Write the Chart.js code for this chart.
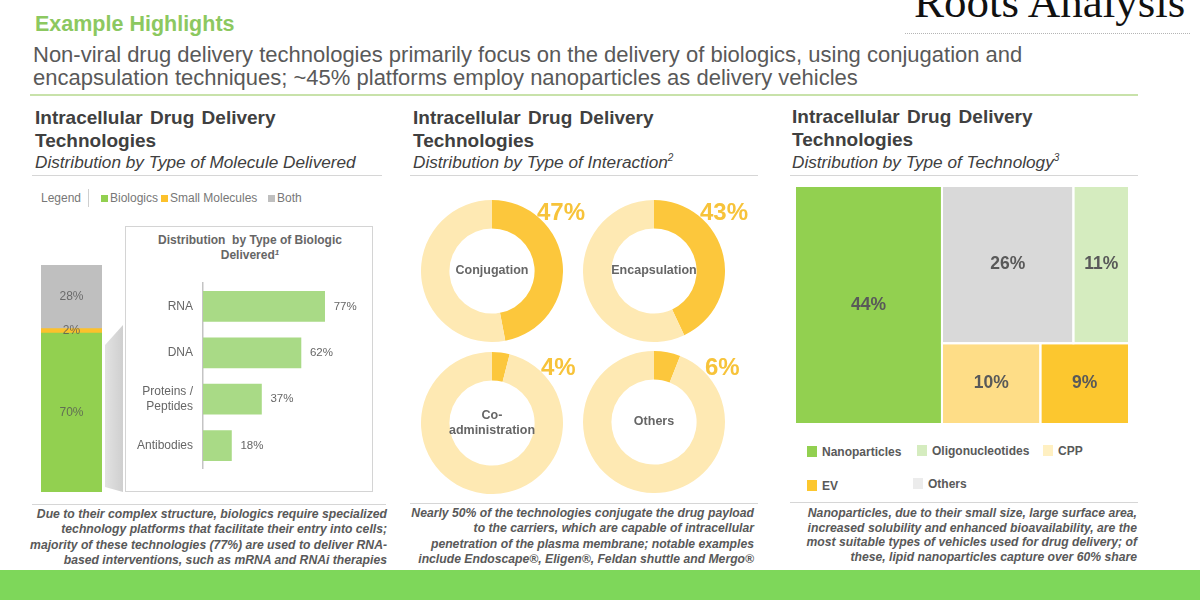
<!DOCTYPE html>
<html>
<head>
<meta charset="utf-8">
<script src="https://cdn.jsdelivr.net/npm/chart.js@4.4.1/dist/chart.umd.min.js"></script>
<style>
  body { margin: 0; background: #fff; font-family: "Liberation Sans", Arial, sans-serif; }
  #page { position: relative; width: 1200px; height: 600px; overflow: hidden; background: #fff; }
  .abs { position: absolute; white-space: nowrap; }
  .head { left: 35px; top: 12px; font-size: 21.5px; font-weight: bold; color: #8cc860; line-height: 24px; }
  .lead { left: 33px; top: 43px; font-size: 22px; color: #595959; line-height: 23px; }
  .title { font-size: 19px; font-weight: bold; color: #404040; line-height: 23px; word-spacing: 2px; }
  .sub { font-size: 17.2px; font-style: italic; color: #404040; line-height: 20px; }
  .sup { position: relative; top: -7px; font-size: 10px; }
  .rule { position: absolute; height: 0; border-top: 1.5px solid #d6d6d6; }
  .note { font-size: 12.2px; font-weight: bold; font-style: italic; color: #595959; text-align: right; line-height: 15.3px; }
  .pct { font-size: 24px; font-weight: bold; color: #f7c33a; line-height: 28px; }
  .leg { font-size: 12px; color: #777; line-height: 14px; }
  .leg3 { font-size: 12px; font-weight: bold; color: #595959; line-height: 14px; }
  .sw { position: absolute; }
</style>
</head>
<body>
<div id="page">
  <!-- header -->
  <div class="abs head">Example Highlights</div>
  <div class="abs lead">Non-viral drug delivery technologies primarily focus on the delivery of biologics, using conjugation and<br>encapsulation techniques; ~45% platforms employ nanoparticles as delivery vehicles</div>
  <div class="rule" style="left:30px;top:94px;width:1108px;border-top:2px solid #c8e2aa;"></div>
  <div class="abs" style="left:914px;top:-20px;font-family:'Liberation Serif',serif;font-size:45px;line-height:45px;color:#111;">Roots Analysis</div>
  <div class="rule" style="left:905px;top:33px;width:285px;border-top:1px dotted #b5b5b5;"></div>

  <!-- column titles -->
  <div class="abs title" style="left:35px;top:106px;">Intracellular Drug Delivery<br>Technologies</div>
  <div class="abs sub" style="left:35px;top:152px;">Distribution by Type of Molecule Delivered</div>
  <div class="rule" style="left:32px;top:175px;width:350px;"></div>

  <div class="abs title" style="left:413px;top:106px;">Intracellular Drug Delivery<br>Technologies</div>
  <div class="abs sub" style="left:413px;top:152px;">Distribution by Type of Interaction<span class="sup">2</span></div>
  <div class="rule" style="left:410px;top:175px;width:348px;"></div>

  <div class="abs title" style="left:792px;top:105px;">Intracellular Drug Delivery<br>Technologies</div>
  <div class="abs sub" style="left:792px;top:152px;">Distribution by Type of Technology<span class="sup">3</span></div>
  <div class="rule" style="left:790px;top:175px;width:348px;"></div>

  <!-- left column decorations -->
  <div class="abs leg" style="left:41px;top:191px;">Legend</div>
  <div class="sw" style="left:88px;top:189px;width:1px;height:18px;background:#cfcfcf;"></div>
  <div class="sw" style="left:105px;top:325px;width:18px;height:167px;background:linear-gradient(90deg,#e2e2e2,#cfcfcf);clip-path:polygon(0 12%,100% 0,100% 100%,0 97%);"></div>
  <div class="sw" style="left:125px;top:226px;width:246px;height:264px;border:1.5px solid #d4d4d4;"></div>
  <div class="abs" style="left:126px;top:233px;width:248px;text-align:center;font-size:12px;font-weight:bold;color:#666;line-height:15px;">Distribution&nbsp; by Type of Biologic<br>Delivered<span style="position:relative;top:-4px;font-size:8px;font-style:italic;">1</span></div>

  <!-- notes -->
  <div class="rule" style="left:32px;top:504px;width:354px;"></div>
  <div class="rule" style="left:410px;top:503px;width:348px;"></div>
  <div class="rule" style="left:790px;top:502px;width:348px;"></div>
  <div class="abs note" style="left:20px;top:507px;width:367px;">Due to their complex structure, biologics require specialized<br>technology platforms that facilitate their entry into cells;<br>majority of these technologies (77%) are used to deliver RNA-<br>based interventions, such as mRNA and RNAi therapies</div>
  <div class="abs note" style="left:395px;top:506px;width:359px;">Nearly 50% of the technologies conjugate the drug payload<br>to the carriers, which are capable of intracellular<br>penetration of the plasma membrane; notable examples<br>include Endoscape®, Eligen®, Feldan shuttle and Mergo®</div>
  <div class="abs note" style="left:775px;top:506px;width:362px;line-height:14.7px;">Nanoparticles, due to their small size, large surface area,<br>increased solubility and enhanced bioavailability, are the<br>most suitable types of vehicles used for drug delivery; of<br>these, lipid nanoparticles capture over 60% share</div>

  <!-- bottom band -->
  <div class="sw" style="left:0;top:570px;width:1200px;height:30px;background:#7ed75a;"></div>
</div>

<script>
// ---- data ----
// molecule delivered (stacked bar, bottom to top)
const moleculeTypes = ['Biologics', 'Small Molecules', 'Both'];
const moleculeShares = [70, 2, 28];
const moleculeColors = ['#92d050', '#fcc12c', '#bfbfbf'];

// biologic delivered (inset bars)
const biologicTypes = ['RNA', 'DNA', ['Proteins /', 'Peptides'], 'Antibodies'];
const biologicShares = [77, 62, 37, 18];

// type of interaction (doughnuts)
const interactionLabels = ['Conjugation', 'Encapsulation', ['Co-', 'administration'], 'Others'];
const interactionShares = [47, 43, 4, 6];

// type of technology (treemap)
const technologyTypes = ['Nanoparticles', 'Others', 'Oligonucleotides', 'CPP', 'EV'];
const technologyShares = [44, 26, 11, 10, 9];
const technologyColors = ['#92d050', '#d9d9d9', '#d5ecbf', '#fedd87', '#fcc72f'];
const technologyLegend = ['Nanoparticles', 'Oligonucleotides', 'CPP', 'EV', 'Others'];

// ---- setup ----
Chart.defaults.font.family = '"Liberation Sans", Arial, sans-serif';
Chart.defaults.animation = false;
Chart.defaults.plugins.legend.display = false;
Chart.defaults.plugins.tooltip.enabled = false;

const page = document.getElementById('page');

function addCanvas(left, top, w, h) {
  const c = document.createElement('canvas');
  c.width = w; c.height = h;
  c.style.cssText = `position:absolute;left:${left}px;top:${top}px;width:${w}px;height:${h}px;`;
  page.appendChild(c);
  return c;
}

function addText(html, css, cls) {
  const d = document.createElement('div');
  d.className = 'abs ' + (cls || '');
  d.style.cssText = css;
  d.innerHTML = html;
  page.appendChild(d);
  return d;
}

// ---- 1. stacked bar: type of molecule ----
// legend row
const legendX = [101, 161, 268];
moleculeTypes.forEach((t, i) => {
  addText('', `left:${legendX[i]}px;top:195px;width:7px;height:7px;background:${moleculeColors[i]};`);
  addText(t, `left:${legendX[i] + 9}px;top:191px;`, 'leg');
});

const stackLabels = {
  id: 'stackLabels',
  afterDatasetsDraw(chart) {
    const ctx = chart.ctx;
    ctx.save();
    ctx.font = '12px "Liberation Sans", Arial';
    ctx.fillStyle = 'rgba(85,85,85,0.8)';
    ctx.textAlign = 'center';
    ctx.textBaseline = 'middle';
    chart.data.datasets.forEach((ds, i) => {
      const bar = chart.getDatasetMeta(i).data[0];
      ctx.fillText(ds.data[0] + '%', bar.x, (bar.y + bar.base) / 2);
    });
    ctx.restore();
  }
};

new Chart(addCanvas(41, 265, 61, 227), {
  type: 'bar',
  data: {
    labels: [''],
    datasets: moleculeTypes.map((t, i) => ({
      label: t,
      data: [moleculeShares[i]],
      backgroundColor: moleculeColors[i],
      barPercentage: 1,
      categoryPercentage: 1
    }))
  },
  options: {
    responsive: false,
    layout: { padding: 0 },
    scales: {
      x: { stacked: true, display: false },
      y: { stacked: true, display: false, min: 0, max: 100 }
    }
  },
  plugins: [stackLabels]
});

// ---- 2. inset bars: type of biologic ----
const barValues = {
  id: 'barValues',
  afterDatasetsDraw(chart) {
    const ctx = chart.ctx;
    ctx.save();
    ctx.font = '11.5px "Liberation Sans", Arial';
    ctx.fillStyle = '#666';
    ctx.textBaseline = 'middle';
    chart.getDatasetMeta(0).data.forEach((bar, i) => {
      ctx.fillText(chart.data.datasets[0].data[i] + '%', bar.x + 9, bar.y);
    });
    ctx.restore();
  }
};

new Chart(addCanvas(125, 266, 248, 220), {
  type: 'bar',
  data: {
    labels: biologicTypes,
    datasets: [{ data: biologicShares, backgroundColor: '#a9da86', barThickness: 30 }]
  },
  options: {
    responsive: false,
    indexAxis: 'y',
    layout: { padding: { right: 12 } },
    scales: {
      x: { display: false, min: 0, max: 100 },
      y: {
        afterFit(scale) { scale.width = 78; },
        grid: { color: 'rgba(0,0,0,0)', drawTicks: false },
        border: { color: '#c4c4c4', width: 1.5 },
        ticks: { color: '#666', padding: 10, font: { size: 12 } }
      }
    }
  },
  plugins: [barValues]
});

// ---- 3. doughnuts: type of interaction ----
const donutCenters = [[492, 271], [654, 271], [492, 423], [654, 422]];
const pctPos = [[537, 198], [700, 198], [541, 353], [705, 353]];

const centerLabel = {
  id: 'centerLabel',
  afterDatasetsDraw(chart) {
    const ctx = chart.ctx;
    const arc = chart.getDatasetMeta(0).data[0];
    const lines = [].concat(chart.data.labels[0]);
    ctx.save();
    ctx.font = 'bold 12.5px "Liberation Sans", Arial';
    ctx.fillStyle = '#666';
    ctx.textAlign = 'center';
    ctx.textBaseline = 'middle';
    lines.forEach((l, k) => {
      ctx.fillText(l, arc.x, arc.y + (k - (lines.length - 1) / 2) * 15);
    });
    ctx.restore();
  }
};

interactionLabels.forEach((lab, i) => {
  const [cx, cy] = donutCenters[i];
  new Chart(addCanvas(cx - 71, cy - 71, 142, 142), {
    type: 'doughnut',
    data: {
      labels: [lab, 'rest'],
      datasets: [{
        data: [interactionShares[i], 100 - interactionShares[i]],
        backgroundColor: ['#fcc73c', '#fee9b3'],
        borderWidth: 0
      }]
    },
    options: { responsive: false, cutout: '60%', layout: { padding: 0 } },
    plugins: [centerLabel]
  });
  addText(interactionShares[i] + '%', `left:${pctPos[i][0]}px;top:${pctPos[i][1]}px;`, 'pct');
});

// ---- 4. treemap: type of technology ----
// first item takes a full-height column, the rest fill two rows
const rows = [[1, 2], [3, 4]];
const total = technologyShares.reduce((a, b) => a + b, 0);
const rects = [];
const firstW = technologyShares[0] / total * 100;
rects[0] = { x0: 0, x1: firstW, y0: 0, y1: 100 };
const restSum = total - technologyShares[0];
let yTop = 100;
rows.forEach(r => {
  const rowSum = r.reduce((a, k) => a + technologyShares[k], 0);
  const h = rowSum / restSum * 100;
  let x = firstW;
  r.forEach(k => {
    const w = technologyShares[k] / rowSum * (100 - firstW);
    rects[k] = { x0: x, x1: x + w, y0: yTop - h, y1: yTop };
    x += w;
  });
  yTop -= h;
});

const treeLabels = {
  id: 'treeLabels',
  afterDatasetsDraw(chart) {
    const ctx = chart.ctx;
    const sx = chart.scales.x, sy = chart.scales.y;
    ctx.save();
    ctx.strokeStyle = '#fff';
    ctx.lineWidth = 2;
    rects.forEach(r => {
      const l = sx.getPixelForValue(r.x0), rr = sx.getPixelForValue(r.x1);
      const t = sy.getPixelForValue(r.y1), b = sy.getPixelForValue(r.y0);
      ctx.strokeRect(l, t, rr - l, b - t);
    });
    ctx.font = 'bold 17.5px "Liberation Sans", Arial';
    ctx.fillStyle = '#595959';
    ctx.textAlign = 'center';
    ctx.textBaseline = 'middle';
    rects.forEach((r, k) => {
      ctx.fillText(technologyShares[k] + '%',
        sx.getPixelForValue((r.x0 + r.x1) / 2), sy.getPixelForValue((r.y0 + r.y1) / 2));
    });
    ctx.restore();
  }
};

new Chart(addCanvas(795, 186, 334, 238), {
  type: 'line',
  data: {
    datasets: technologyTypes.map((t, k) => ({
      label: t,
      data: [{ x: rects[k].x0, y: rects[k].y1 }, { x: rects[k].x1, y: rects[k].y1 }],
      fill: { value: rects[k].y0 },
      backgroundColor: technologyColors[k],
      borderWidth: 0,
      pointRadius: 0
    }))
  },
  options: {
    responsive: false,
    layout: { padding: 0 },
    scales: {
      x: { type: 'linear', display: false, min: 0, max: 100 },
      y: { type: 'linear', display: false, min: 0, max: 100 }
    }
  },
  plugins: [treeLabels]
});

// treemap legend
const leg3Pos = [[807, 446], [917, 445], [1043, 445], [807, 480], [913, 478]];
const legendSwatch = { CPP: '#fff0c2', Others: '#ececec' };
technologyLegend.forEach((t, i) => {
  const [lx, ly] = leg3Pos[i];
  const col = legendSwatch[t] || technologyColors[technologyTypes.indexOf(t)];
  addText('', `left:${lx}px;top:${ly}px;width:10px;height:11px;background:${col};`);
  addText(t, `left:${lx + 15}px;top:${ly - 1}px;`, 'leg3');
});
</script>
</body>
</html>
